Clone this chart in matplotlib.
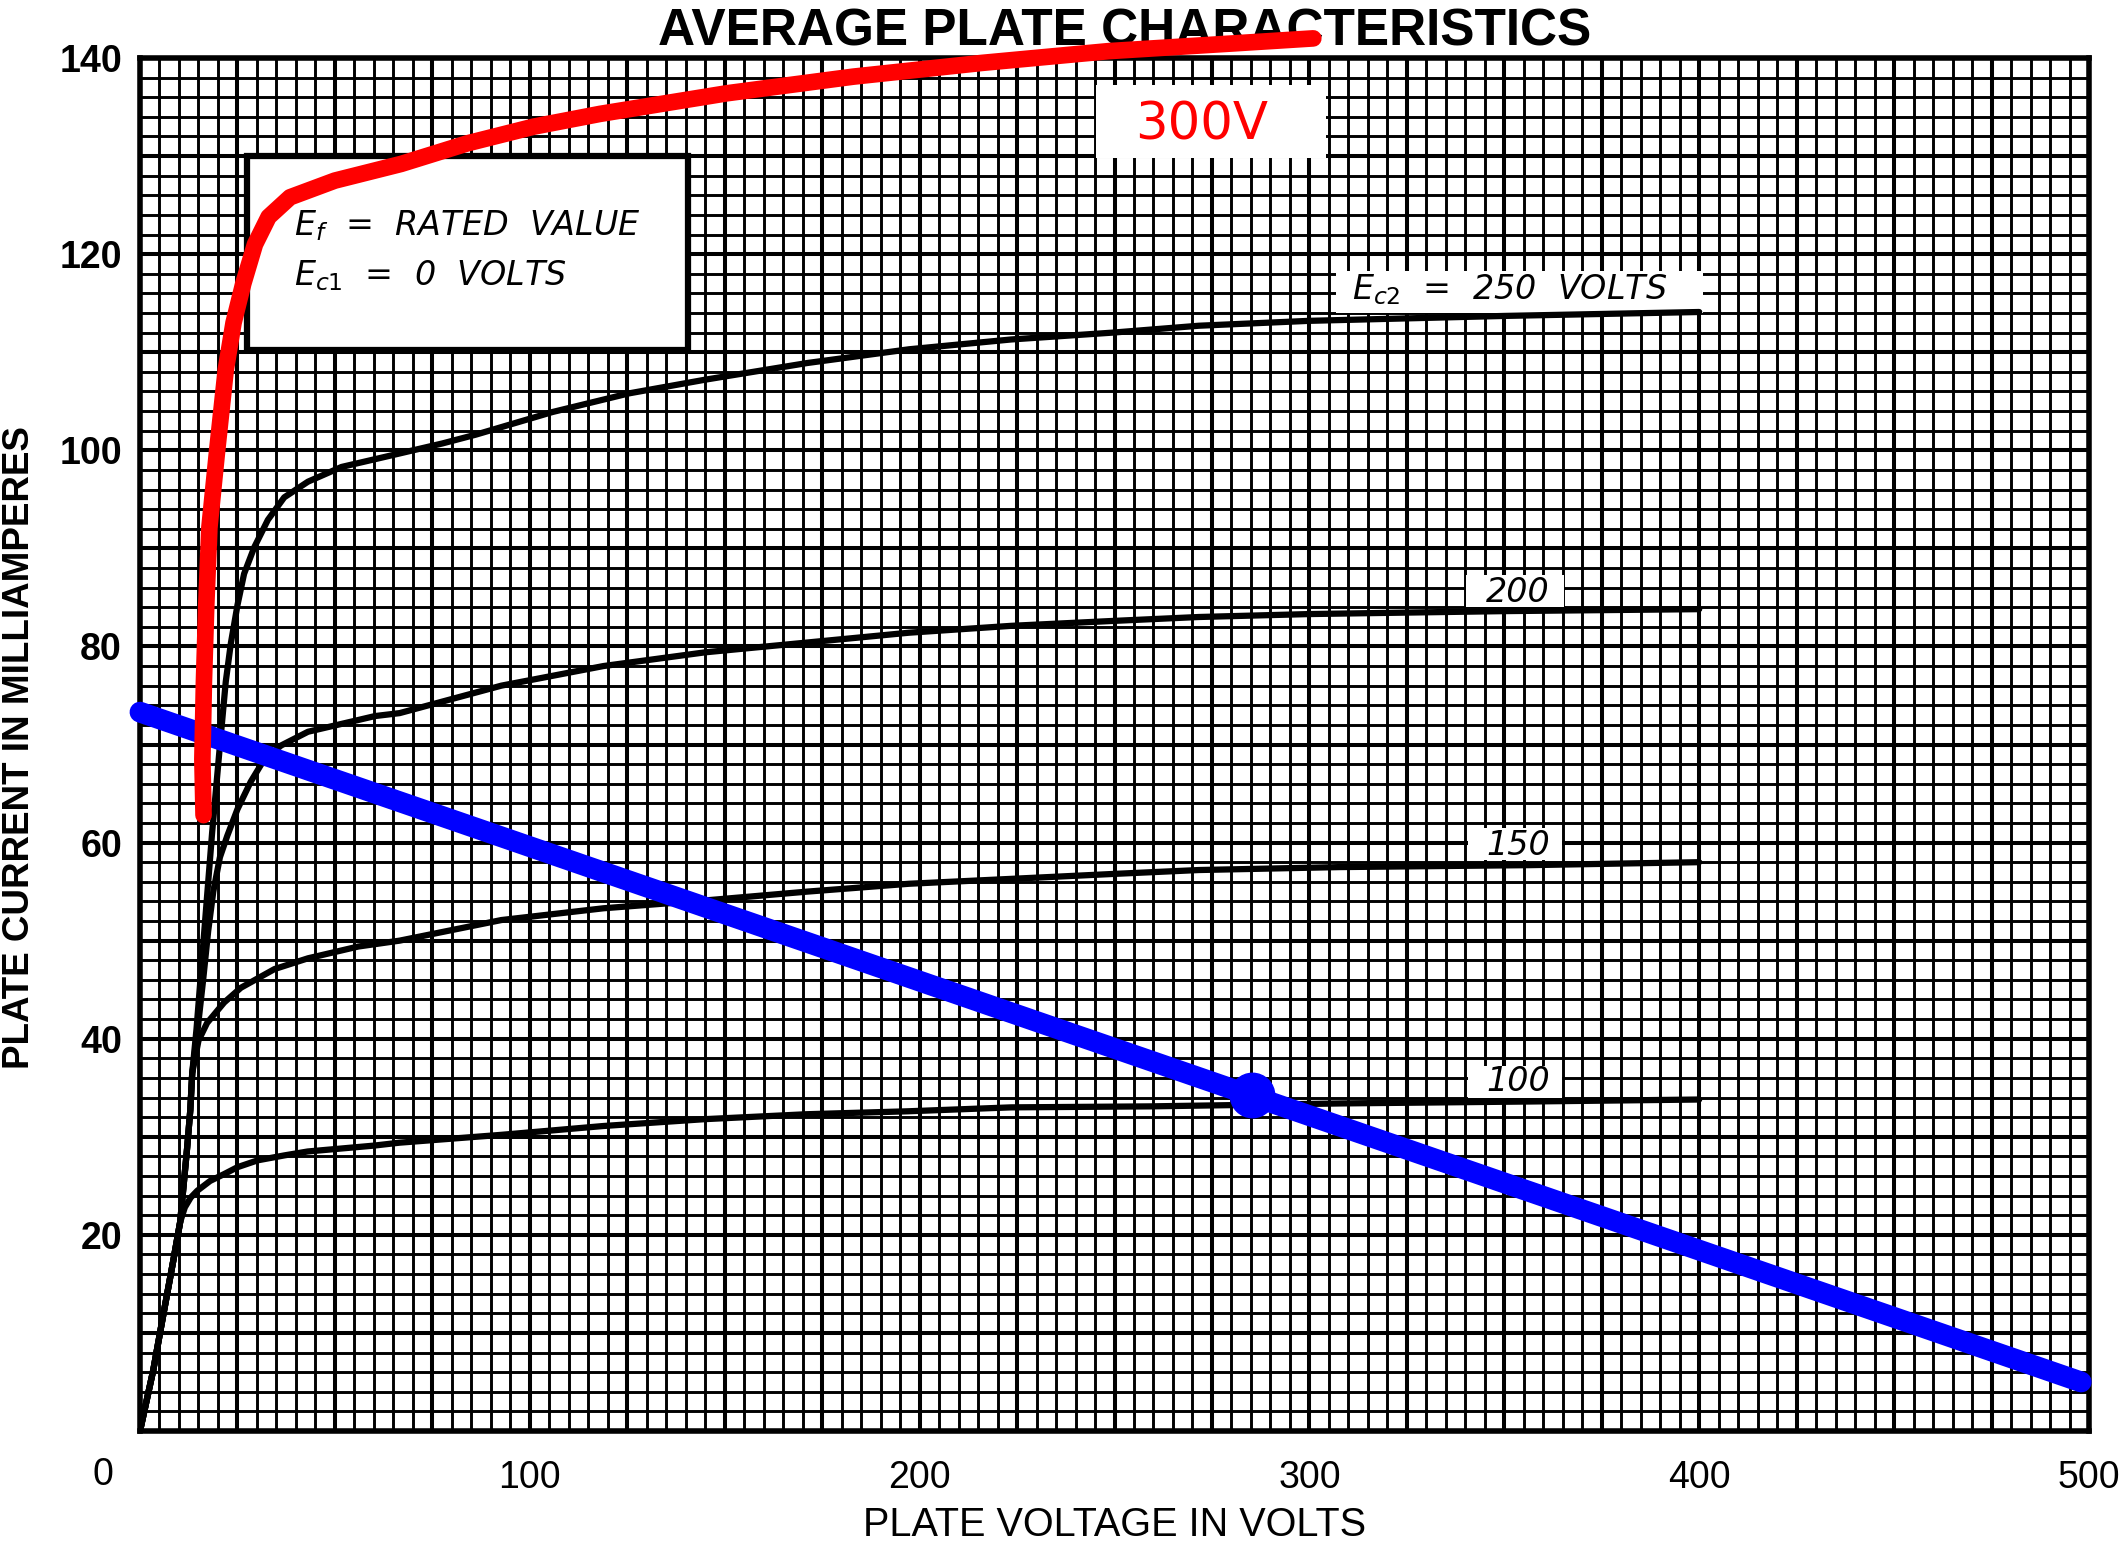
import matplotlib
matplotlib.use("Agg")
import matplotlib.pyplot as plt
from matplotlib.ticker import MultipleLocator, FuncFormatter
from matplotlib.patches import Rectangle

# plate voltage (V) / plate current (mA), one curve per screen voltage Ec2
ec2_100_v = [0, 3.4, 6.0, 8.6, 10.3, 11.5, 13.0, 14.7, 18.0, 21.6, 25.0, 30.2, 37.0, 43.0, 60.0, 66.6,
             92.7, 118.9, 145.0, 171.0, 197.0, 223.5, 259.0, 308.0, 357.0, 400.0]
ec2_100_i = [0, 6.2, 11.9, 17.5, 21.3, 22.8, 23.8, 24.5, 25.5, 26.2, 26.9, 27.6, 28.1, 28.5, 29.1, 29.4,
             30.2, 31.1, 31.8, 32.3, 32.6, 33.0, 33.1, 33.4, 33.6, 33.8]

ec2_150_v = [0, 3.4, 6.0, 8.6, 10.3, 11.2, 12.1, 12.9, 13.4, 15.0, 17.2, 21.6, 25.9, 34.5, 43.1, 56.0,
             66.6, 92.7, 118.9, 145.0, 171.2, 197.3, 223.5, 249.6, 271.6, 307.8, 356.8, 400.0]
ec2_150_i = [0, 6.2, 11.9, 17.5, 21.3, 25.1, 28.9, 32.7, 36.5, 39.8, 41.6, 43.7, 45.2, 47.1, 48.2, 49.4,
             50.0, 52.1, 53.3, 54.1, 55.0, 55.8, 56.3, 56.8, 57.2, 57.5, 57.7, 58.0]

ec2_200_v = [0, 3.4, 6.0, 8.6, 10.3, 11.2, 12.1, 12.9, 13.4, 14.8, 16.2, 17.5, 18.8, 20.5, 22.4, 25.0,
             28.4, 31.9, 36.2, 43.1, 60.3, 66.6, 92.7, 118.9, 145.0, 171.2, 197.3, 223.5, 249.6, 271.6,
             300.0, 350.0, 400.0]
ec2_200_i = [0, 6.2, 11.9, 17.5, 21.3, 25.1, 28.9, 32.7, 36.5, 41.0, 46.0, 51.0, 55.0, 58.5, 60.7, 63.4,
             66.2, 68.5, 69.9, 71.3, 72.9, 73.2, 76.0, 78.0, 79.4, 80.4, 81.4, 82.1, 82.6, 83.0,
             83.3, 83.6, 83.8]

ec2_250_v = [0, 3.4, 6.0, 8.6, 10.3, 11.2, 12.1, 12.9, 13.4, 14.5, 15.5, 16.5, 17.5, 18.5, 19.4, 20.3,
             21.1, 22.0, 23.3, 25.0, 26.7, 29.3, 32.8, 37.0, 43.1, 51.7, 64.7, 77.6, 86.2, 105.8, 125.4,
             145.0, 171.2, 197.3, 223.5, 249.6, 271.6, 300.0, 350.0, 400.0]
ec2_250_i = [0, 6.2, 11.9, 17.5, 21.3, 25.1, 28.9, 32.7, 36.5, 41.0, 46.0, 51.0, 56.0, 61.0, 65.0, 69.0,
             72.5, 76.4, 80.3, 84.2, 87.4, 90.1, 92.9, 95.2, 96.8, 98.3, 99.5, 100.7, 101.6, 103.9, 105.8,
             107.2, 108.9, 110.3, 111.3, 112.0, 112.7, 113.2, 113.7, 114.1]

# hand drawn 300 V screen curve (red)
ec2_300_v = [16.3, 16.0, 16.4, 17.0, 17.8, 19.8, 22.0, 24.0, 26.5, 29.5, 33.0, 38.5, 50.0, 67.0, 84.0,
             101.0, 118.0, 150.5, 183.0, 216.0, 248.5, 281.0, 301.0]
ec2_300_i = [62.8, 68.5, 76.4, 84.2, 92.1, 100.0, 108.2, 113.0, 117.0, 121.0, 123.8, 125.8, 127.5, 129.2,
             131.3, 133.0, 134.3, 136.4, 138.1, 139.5, 140.7, 141.5, 142.0]

# load line and operating point (blue)
load_v = [0, 498]
load_i = [73.3, 5.0]
q_v = [285.3]
q_i = [34.3]

fig = plt.figure(figsize=(21.26, 15.51), dpi=100)
W, H = 2126, 1551
ax = fig.add_axes([140 / W, 1 - 1431 / H, (2089 - 140) / W, (1431 - 58) / H])
ax.set_xlim(0, 500)
ax.set_ylim(0, 140)

# graph paper
ax.xaxis.set_major_locator(MultipleLocator(25))
ax.xaxis.set_minor_locator(MultipleLocator(5))
ax.yaxis.set_major_locator(MultipleLocator(10))
ax.yaxis.set_minor_locator(MultipleLocator(2))
ax.grid(which="minor", color="black", lw=2.1)
ax.grid(which="major", color="black", lw=2.9)
ax.set_axisbelow(True)
ax.tick_params(which="both", length=0)
ax.xaxis.set_major_formatter(FuncFormatter(lambda v, p: "%d" % v if v % 100 == 0 and v > 0 else ""))
ax.yaxis.set_major_formatter(FuncFormatter(lambda v, p: "%d" % v if v % 20 == 0 and v > 0 else ""))
ax.tick_params(axis="x", pad=21)
ax.tick_params(axis="y", pad=13)
for lab in ax.get_xticklabels():
    lab.set_fontfamily("Liberation Sans")
    lab.set_fontsize(27)
for lab in ax.get_yticklabels():
    lab.set_fontfamily("Liberation Sans")
    lab.set_fontsize(27)
    lab.set_fontweight("bold")
for s in ax.spines.values():
    s.set_linewidth(4)

ax.annotate("0", xy=(0, 0), xytext=(-27, -32), textcoords="offset points",
            ha="center", va="center", fontsize=27, family="Liberation Sans")

# white label boxes
ax.add_patch(Rectangle((27.5, 110.2), 113, 19.8, facecolor="white", edgecolor="black", lw=4.5, zorder=2))
ax.add_patch(Rectangle((306.8, 114.0), 94.2, 4.3, facecolor="white", edgecolor="none", zorder=2))
ax.add_patch(Rectangle((340.3, 84.0), 25.1, 3.3, facecolor="white", edgecolor="none", zorder=2))
ax.add_patch(Rectangle((340.7, 58.2), 24.0, 3.3, facecolor="white", edgecolor="none", zorder=2))
ax.add_patch(Rectangle((340.7, 34.0), 24.0, 3.2, facecolor="white", edgecolor="none", zorder=2))
ax.add_patch(Rectangle((245.3, 129.8), 58.9, 7.4, facecolor="white", edgecolor="none", zorder=2))

lab = dict(fontsize=24, family="DejaVu Sans", style="italic", zorder=3)
ax.text(39.6, 121.9, r"$E_f$  =  RATED  VALUE", ha="left", va="baseline", **lab)
ax.text(39.6, 116.8, r"$E_{c1}$  =  0  VOLTS", ha="left", va="baseline", **lab)
ax.text(311.0, 115.4, r"$E_{c2}$  =  250  VOLTS", ha="left", va="baseline", **lab)
ax.text(353.5, 84.5, "200", ha="center", va="baseline", **lab)
ax.text(353.5, 58.7, "150", ha="center", va="baseline", **lab)
ax.text(353.5, 34.7, "100", ha="center", va="baseline", **lab)
ax.text(272.4, 133.1, "300V", ha="center", va="center", fontsize=37, family="DejaVu Sans",
        color="#ff0000", zorder=3)

# curves
for v, i in [(ec2_100_v, ec2_100_i), (ec2_150_v, ec2_150_i),
             (ec2_200_v, ec2_200_i), (ec2_250_v, ec2_250_i)]:
    ax.plot(v, i, color="black", lw=4.5, solid_joinstyle="round", solid_capstyle="round", zorder=3)

ax.plot(load_v, load_i, color="#0000ff", lw=15, solid_capstyle="round", zorder=4, clip_on=False)
ax.plot(q_v, q_i, "o", color="#0000ff", ms=32, zorder=4)
ax.plot(ec2_300_v, ec2_300_i, color="#ff0000", lw=12, solid_capstyle="round",
        solid_joinstyle="round", zorder=5, clip_on=False)

# title and axis labels
ax.text(1125 / W, 1 - 45 / H, "AVERAGE PLATE CHARACTERISTICS", transform=fig.transFigure,
        ha="center", va="baseline", fontsize=37, fontweight="bold", family="Liberation Sans",
        zorder=4.5, clip_on=False)
fig.text(1115 / W, 1 - 1525 / H, "PLATE VOLTAGE IN VOLTS", ha="center", va="center",
         fontsize=28.5, family="Liberation Sans")
fig.text(20 / W, 1 - 748 / H, "PLATE CURRENT IN MILLIAMPERES", ha="center", va="center",
         rotation=90, fontsize=26.5, fontweight="bold", family="Liberation Sans")

fig.savefig("out.png", dpi=100, facecolor="white")
